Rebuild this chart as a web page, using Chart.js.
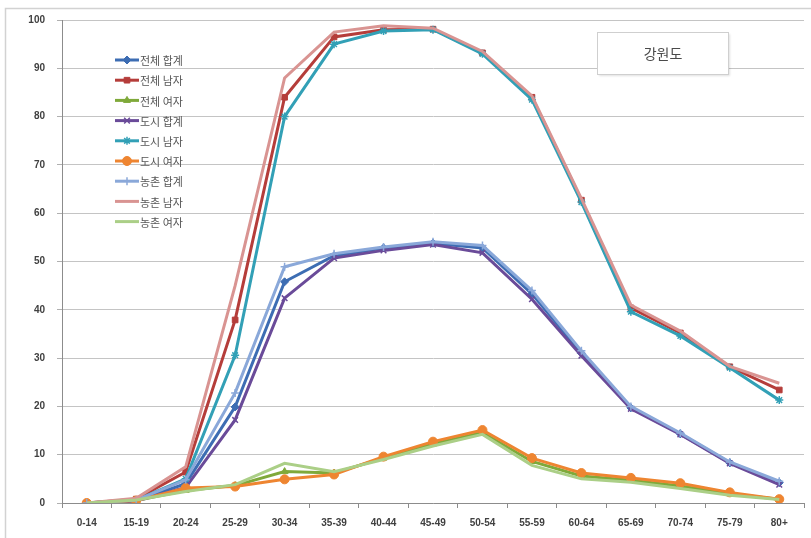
<!DOCTYPE html>
<html lang="ko">
<head>
<meta charset="utf-8">
<title>강원도 연령별 비율</title>
<script src="https://cdn.jsdelivr.net/npm/chart.js@4.4.1/dist/chart.umd.min.js"></script>
<style>
  html, body { margin: 0; padding: 0; background: #fff; }
  #wrap { position: relative; width: 811px; height: 538px; }
</style>
</head>
<body>
<div id="wrap"><canvas id="chart" width="811" height="538"></canvas></div>
<script>
/* ─── Data ───────────────────────────────────────────────────────────────── */
const ageGroups = ['0-14', '15-19', '20-24', '25-29', '30-34', '35-39', '40-44',
                   '45-49', '50-54', '55-59', '60-64', '65-69', '70-74', '75-79', '80+'];

const totalAll    = [0, 0.5, 4.0, 19.9, 45.8, 51.2, 52.8, 53.8, 52.8, 43.3, 31.0, 19.7, 14.3, 8.3, 4.2];
const totalMale   = [0, 0.8, 6.4, 37.9, 84.0, 96.5, 98.0, 98.1, 93.2, 84.0, 62.7, 40.4, 35.2, 28.2, 23.4];
const totalFemale = [0, 0.5, 2.6, 3.6, 6.5, 6.2, 9.3, 12.2, 14.6, 8.6, 5.6, 4.7, 3.5, 1.9, 0.8];
const cityAll     = [0, 0.4, 3.2, 17.2, 42.4, 50.7, 52.3, 53.5, 51.8, 42.2, 30.5, 19.5, 14.2, 8.2, 3.8];
const cityMale    = [0, 0.6, 5.0, 30.6, 80.0, 95.0, 97.7, 98.0, 93.0, 83.5, 62.3, 39.6, 34.6, 28.0, 21.3];
const cityFemale  = [0, 0.5, 3.1, 3.4, 4.9, 5.9, 9.6, 12.7, 15.1, 9.3, 6.2, 5.2, 4.1, 2.2, 0.8];
const ruralAll    = [0, 0.6, 4.8, 22.8, 48.9, 51.6, 53.0, 54.1, 53.3, 44.0, 31.5, 20.0, 14.5, 8.5, 4.5];
const ruralMale   = [0, 1.0, 7.5, 45.0, 88.0, 97.5, 98.8, 98.3, 93.5, 84.3, 63.0, 41.0, 35.6, 28.3, 24.8];
const ruralFemale = [0, 0.6, 2.4, 3.8, 8.2, 6.5, 9.0, 11.8, 14.2, 7.8, 5.0, 4.3, 3.0, 1.6, 0.7];

const seriesNames = ['전체 합계', '전체 남자', '전체 여자', '도시 합계', '도시 남자',
                     '도시 여자', '농촌 합계', '농촌 남자', '농촌 여자'];
const yTicks = [0, 10, 20, 30, 40, 50, 60, 70, 80, 90, 100];
const regionName = '강원도';

/* ─── Series styling ─────────────────────────────────────────────────────── */
const seriesData   = [totalAll, totalMale, totalFemale, cityAll, cityMale, cityFemale, ruralAll, ruralMale, ruralFemale];
const seriesColour = ['#3d6db3', '#b53d3a', '#7fa93a', '#6a4b99', '#32a0b6', '#ee8531', '#8aa8d9', '#d99492', '#abcf87'];
const seriesMarker = ['rectRot', 'rect', 'triangle', 'crossRot', 'star', 'circle', 'cross', false, false];
const markerRadius = [4, 4, 4, 4, 4, 4.5, 4, 0, 0];

const datasets = seriesData.map((data, i) => ({
  label: seriesNames[i],
  data,
  borderColor: seriesColour[i],
  backgroundColor: seriesColour[i],
  borderWidth: 3,
  tension: 0,
  pointStyle: seriesMarker[i],
  pointRadius: markerRadius[i],
  pointBorderWidth: seriesMarker[i] && seriesMarker[i].startsWith('cross') || seriesMarker[i] === 'star' ? 1.5 : 1,
  pointBorderColor: seriesColour[i],
  pointBackgroundColor: seriesColour[i],
  order: -i   // later series sit on top
}));

/* ─── Frame, title box and legend drawn on the canvas ───────────────────── */
const decorations = {
  id: 'decorations',
  beforeDraw(chart) {
    const ctx = chart.ctx;
    ctx.save();
    ctx.strokeStyle = '#d2d2d2';
    ctx.lineWidth = 1.5;
    ctx.beginPath();
    ctx.moveTo(5.5, 540);
    ctx.lineTo(5.5, 8.5);
    ctx.lineTo(815, 8.5);
    ctx.stroke();
    ctx.restore();
  },
  afterDraw(chart) {
    const ctx = chart.ctx;
    ctx.save();

    // title box
    ctx.fillStyle = '#fff';
    ctx.shadowColor = 'rgba(0,0,0,0.12)';
    ctx.shadowOffsetX = 1;
    ctx.shadowOffsetY = 1;
    ctx.shadowBlur = 2;
    ctx.fillRect(597.5, 32.5, 131, 42);
    ctx.shadowColor = 'transparent';
    ctx.strokeStyle = '#cfcfcf';
    ctx.lineWidth = 1;
    ctx.strokeRect(597.5, 32.5, 131, 42);
    ctx.fillStyle = '#4a4a4a';
    ctx.font = '14px "Noto Sans CJK KR", sans-serif';
    ctx.textAlign = 'center';
    ctx.textBaseline = 'middle';
    ctx.fillText(regionName, 663, 54);

    // legend
    ctx.font = '11px "Noto Sans CJK KR", sans-serif';
    ctx.textAlign = 'left';
    chart.data.datasets.forEach((ds, i) => {
      const y = 60 + i * 20.2;
      ctx.strokeStyle = ds.borderColor;
      ctx.lineWidth = 3;
      ctx.beginPath();
      ctx.moveTo(115, y);
      ctx.lineTo(139, y);
      ctx.stroke();
      if (ds.pointStyle) {
        ctx.fillStyle = ds.borderColor;
        ctx.strokeStyle = ds.borderColor;
        ctx.lineWidth = ds.pointBorderWidth;
        Chart.helpers.drawPoint(ctx, {
          pointStyle: ds.pointStyle, radius: ds.pointRadius, borderWidth: ds.pointBorderWidth, rotation: 0
        }, 127, y);
      }
      ctx.fillStyle = '#555';
      ctx.fillText(ds.label, 140, y + 1);
    });
    ctx.restore();
  }
};

/* ─── Chart ──────────────────────────────────────────────────────────────── */
new Chart(document.getElementById('chart'), {
  type: 'line',
  data: { labels: ageGroups, datasets },
  plugins: [decorations],
  options: {
    responsive: false,
    animation: false,
    layout: { padding: { left: 0, top: 20, right: 7, bottom: 0 } },
    plugins: {
      legend: { display: false },
      tooltip: { enabled: false }
    },
    scales: {
      x: {
        offset: true,
        grid: {
          offset: true,
          drawOnChartArea: false,
          drawTicks: true,
          tickLength: 5,
          tickColor: '#8c8c8c'
        },
        border: { color: '#8c8c8c', width: 1 },
        ticks: {
          color: '#404040',
          padding: 9,
          maxRotation: 0,
          autoSkip: false,
          font: { family: '"Liberation Sans", Arial, sans-serif', size: 10, weight: 'bold' }
        },
        afterFit(scale) { scale.height = 35; }
      },
      y: {
        min: 0,
        max: 100,
        afterBuildTicks(scale) { scale.ticks = yTicks.map(v => ({ value: v })); },
        grid: {
          color: '#c4c4c4',
          lineWidth: 1,
          tickLength: 5,
          tickColor: '#b0b0b0'
        },
        border: { color: '#8c8c8c', width: 1 },
        ticks: {
          color: '#404040',
          padding: 12,
          font: { family: '"Liberation Sans", Arial, sans-serif', size: 10, weight: 'bold' }
        },
        afterFit(scale) { scale.width = 62; }
      }
    }
  }
});
</script>
</body>
</html>
